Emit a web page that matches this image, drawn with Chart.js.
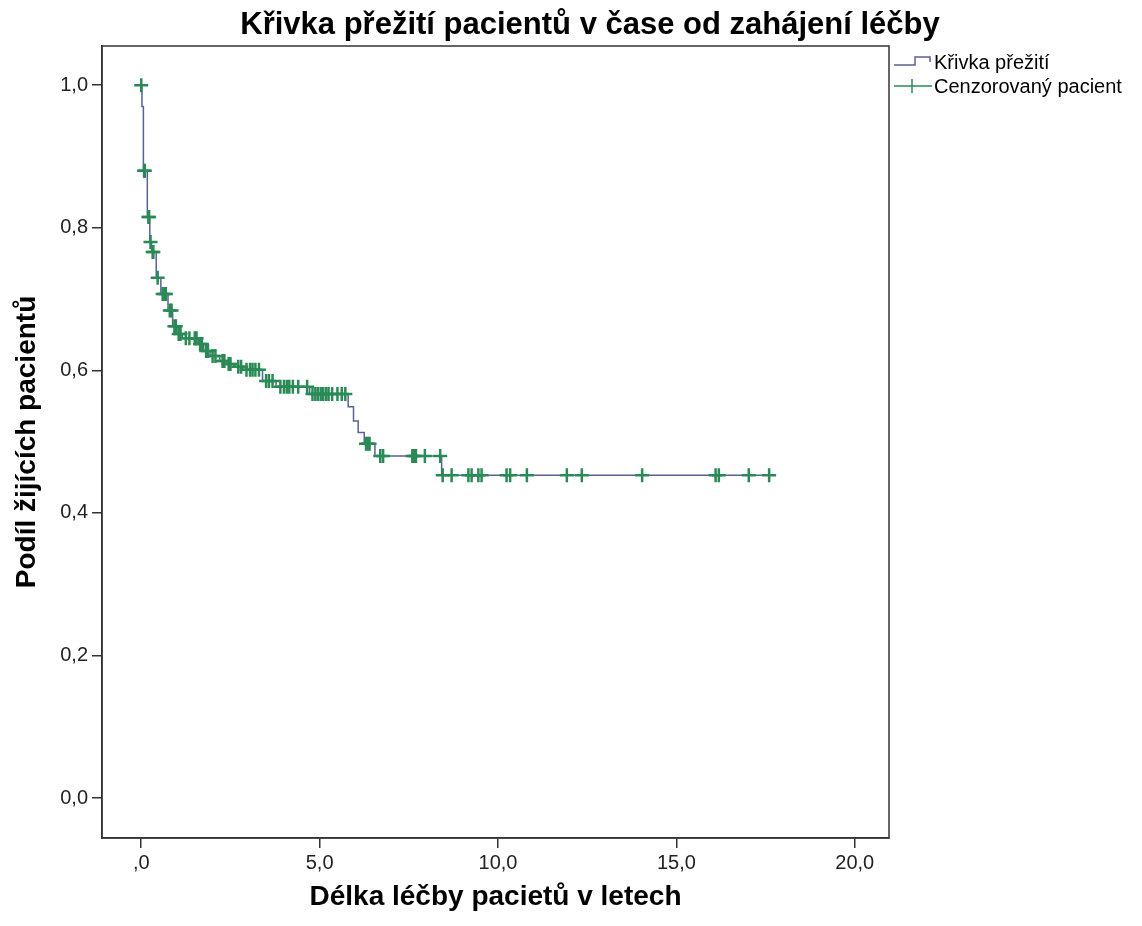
<!DOCTYPE html>
<html>
<head>
<meta charset="utf-8">
<script src="https://cdn.jsdelivr.net/npm/chart.js@4/dist/chart.umd.min.js"></script>
<style>
  html, body { margin: 0; padding: 0; background: #fff; }
  canvas { display: block; }
</style>
</head>
<body>
<canvas id="chart" width="1142" height="926"></canvas>
<script>
// Kaplan-Meier curve: time of each step (years) and survival after it
const stepTimes = [0, 0.02, 0.06, 0.17, 0.24, 0.29, 0.42, 0.55, 0.75, 0.88, 1.0, 1.15, 1.6, 1.75, 1.93, 2.2, 2.4, 2.6, 2.85, 3.4, 3.78, 4.72, 5.8, 5.95, 6.08, 6.25, 6.55, 8.42, 17.78];
const stepSurvival = [1.0, 0.97, 0.88, 0.815, 0.78, 0.766, 0.73, 0.707, 0.684, 0.662, 0.651, 0.645, 0.637, 0.627, 0.62, 0.613, 0.609, 0.605, 0.601, 0.585, 0.577, 0.567, 0.549, 0.529, 0.513, 0.497, 0.48, 0.453, 0.453];

// censored patients
const censorTimes = [0, 0.08, 0.1, 0.2, 0.22, 0.26, 0.32, 0.34, 0.46, 0.6, 0.65, 0.69, 0.8, 0.85, 0.93, 0.97, 1.05, 1.1, 1.25, 1.35, 1.5, 1.55, 1.65, 1.7, 1.82, 1.87, 2.0, 2.08, 2.28, 2.33, 2.45, 2.5, 2.72, 2.8, 2.95, 3.05, 3.12, 3.2, 3.3, 3.5, 3.58, 3.68, 3.9, 4.0, 4.08, 4.15, 4.25, 4.4, 4.65, 4.8, 4.88, 4.95, 5.03, 5.1, 5.18, 5.25, 5.35, 5.5, 5.62, 5.72, 6.3, 6.35, 6.4, 6.7, 6.78, 7.6, 7.65, 7.7, 7.95, 8.38, 8.45, 8.7, 9.17, 9.26, 9.45, 9.54, 10.24, 10.34, 10.81, 11.93, 12.35, 14.04, 16.1, 16.19, 17.03, 17.6];
const censorSurvival = [1.0, 0.88, 0.88, 0.815, 0.815, 0.78, 0.766, 0.766, 0.73, 0.707, 0.707, 0.707, 0.684, 0.684, 0.662, 0.662, 0.651, 0.651, 0.645, 0.645, 0.645, 0.645, 0.637, 0.637, 0.627, 0.627, 0.62, 0.62, 0.613, 0.613, 0.609, 0.609, 0.605, 0.605, 0.601, 0.601, 0.601, 0.601, 0.601, 0.585, 0.585, 0.585, 0.577, 0.577, 0.577, 0.577, 0.577, 0.577, 0.577, 0.567, 0.567, 0.567, 0.567, 0.567, 0.567, 0.567, 0.567, 0.567, 0.567, 0.567, 0.497, 0.497, 0.497, 0.48, 0.48, 0.48, 0.48, 0.48, 0.48, 0.48, 0.453, 0.453, 0.453, 0.453, 0.453, 0.453, 0.453, 0.453, 0.453, 0.453, 0.453, 0.453, 0.453, 0.453, 0.453, 0.453];

const xTicks = [0, 5, 10, 15, 20];
const xTickLabels = [',0', '5,0', '10,0', '15,0', '20,0'];
const yTicks = [0, 0.2, 0.4, 0.6, 0.8, 1.0];
const yTickLabels = ['0,0', '0,2', '0,4', '0,6', '0,8', '1,0'];

const titleText = 'Křivka přežití pacientů v čase od zahájení léčby';
const FONT = '"Liberation Sans", Arial, sans-serif';
const AXIS = '#333';
const LINE_COL = '#5b6097';
const MARK_COL = '#2a8a55';

// outer frame + SPSS style title and legend
const decor = {
  id: 'decor',
  afterDraw(chart) {
    const ctx = chart.ctx;
    const a = chart.chartArea;
    ctx.save();
    ctx.strokeStyle = AXIS;
    ctx.lineWidth = 1.5;
    ctx.strokeRect(a.left, a.top, a.right - a.left, a.bottom - a.top);

    ctx.fillStyle = '#000';
    ctx.font = 'bold 31px ' + FONT;
    ctx.textAlign = 'center';
    ctx.textBaseline = 'alphabetic';
    ctx.fillText(titleText, 590, 34);

    // legend
    const lx = a.right + 5;
    ctx.font = '20px ' + FONT;
    ctx.textAlign = 'left';
    ctx.textBaseline = 'middle';
    let y = 62;
    chart.data.datasets.forEach(ds => {
      ctx.strokeStyle = ds.borderColor;
      ctx.lineWidth = 1.5;
      ctx.beginPath();
      if (ds.showLine) {
        ctx.moveTo(lx, y + 3);
        ctx.lineTo(lx + 21, y + 3);
        ctx.lineTo(lx + 21, y - 5);
        ctx.lineTo(lx + 36, y - 5);
        ctx.lineTo(lx + 36, y);
      } else {
        ctx.moveTo(lx, y);
        ctx.lineTo(lx + 38, y);
        ctx.moveTo(lx + 18, y - 7);
        ctx.lineTo(lx + 18, y + 7);
      }
      ctx.stroke();
      ctx.fillStyle = '#000';
      ctx.fillText(ds.label, lx + 40, y + 1);
      y += 24;
    });
    ctx.restore();
  }
};

new Chart(document.getElementById('chart'), {
  type: 'scatter',
  data: {
    datasets: [{
      label: 'Křivka přežití',
      data: stepTimes.map((t, i) => ({ x: t, y: stepSurvival[i] })),
      showLine: true,
      stepped: 'before',
      borderColor: LINE_COL,
      borderWidth: 1.5,
      pointRadius: 0,
      order: 1
    }, {
      label: 'Cenzorovaný pacient',
      data: censorTimes.map((t, i) => ({ x: t, y: censorSurvival[i] })),
      showLine: false,
      pointStyle: 'cross',
      pointRadius: 7,
      borderColor: MARK_COL,
      backgroundColor: MARK_COL,
      borderWidth: 2.5,
      order: 0
    }]
  },
  options: {
    responsive: false,
    animation: false,
    devicePixelRatio: 1,
    layout: { padding: { left: 0, right: 253, top: 46, bottom: 0 } },
    plugins: { legend: { display: false }, tooltip: { enabled: false } },
    scales: {
      x: {
        type: 'linear',
        min: -1.1,
        max: 20.96,
        afterBuildTicks: s => { s.ticks = xTicks.map(v => ({ value: v })); },
        afterFit: s => { s.height = 88; },
        ticks: {
          callback: v => xTickLabels[xTicks.indexOf(v)],
          font: { family: FONT, size: 20 },
          color: '#222',
          padding: 3,
          maxRotation: 0
        },
        grid: { drawOnChartArea: false, drawTicks: true, tickLength: 10, color: AXIS, lineWidth: 1.5 },
        border: { display: true, color: AXIS, width: 1.5 },
        title: {
          display: true,
          text: 'Délka léčby pacietů v letech',
          font: { family: FONT, size: 28, weight: 'bold' },
          color: '#000',
          padding: { top: 0, bottom: 12 }
        }
      },
      y: {
        type: 'linear',
        min: -0.056,
        max: 1.055,
        afterBuildTicks: s => { s.ticks = yTicks.map(v => ({ value: v })); },
        afterFit: s => { s.width = 102; },
        ticks: {
          callback: v => yTickLabels[yTicks.indexOf(v)],
          font: { family: FONT, size: 20 },
          color: '#222',
          padding: 4
        },
        grid: { drawOnChartArea: false, drawTicks: true, tickLength: 10, color: AXIS, lineWidth: 1.5 },
        border: { display: true, color: AXIS, width: 1.5 },
        title: {
          display: true,
          text: 'Podíl žijících pacientů',
          font: { family: FONT, size: 28, weight: 'bold' },
          color: '#000',
          padding: { top: 10, bottom: 0 }
        }
      }
    }
  },
  plugins: [decor]
});
</script>
</body>
</html>
